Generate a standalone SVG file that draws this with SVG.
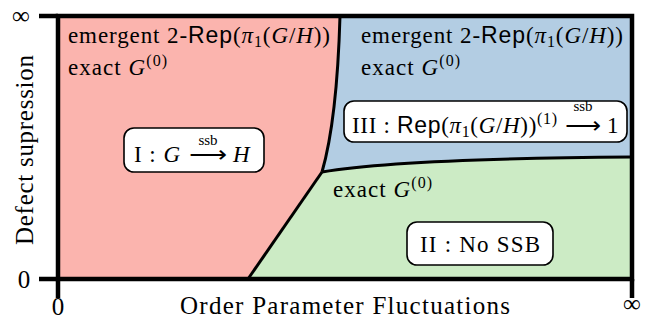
<svg xmlns="http://www.w3.org/2000/svg" width="654" height="320" viewBox="0 0 654 320">
<style>
.t{font-family:"Liberation Serif","Times New Roman",serif;font-size:23px;fill:#000}
.sf{font-family:"Liberation Sans",Arial,sans-serif}
.it{font-style:italic}
.sm{font-size:16px}
.ssb{font-family:"Liberation Serif","Times New Roman",serif;font-size:15px;text-anchor:middle}
.arr{font-family:"DejaVu Sans",sans-serif;font-size:23px}
.ax{font-family:"Liberation Serif","Times New Roman",serif;font-size:25px;fill:#000}
.bnd{fill:none;stroke:#000;stroke-width:3;stroke-linejoin:round}
.box{fill:#fff;stroke:#000;stroke-width:1.6}
</style>
<rect width="654" height="320" fill="#fff"/>
<g id="regions">
<path id="phase-I" d="M58,16 H340 Q337,120 322,172 L248,279 H58 Z" fill="#fbb4ae"/>
<path id="phase-III" d="M340,16 H632 V157 C500,158 380,162 322,172 Q337,120 340,16 Z" fill="#b3cde3"/>
<path id="phase-II" d="M322,172 C380,162 500,158 632,157 V279 H248 Z" fill="#ccebc5"/>
</g>
<g id="connectors">
<path class="bnd" d="M340,16 Q337,120 322,172"/>
<path class="bnd" d="M322,172 C380,162 500,158 632,157"/>
<path class="bnd" d="M322,172 L248,279"/>
<rect x="58" y="16" width="574" height="263" fill="none" stroke="#000" stroke-width="4.5"/>
<path d="M39,16 H58 M39,279 H58 M58,279 V298 M632,279 V298" stroke="#000" stroke-width="4.5" fill="none"/>
</g>
<g id="axes-labels">
<text class="ax" x="21" y="24" text-anchor="middle">∞</text>
<text class="ax" x="24" y="288" text-anchor="middle">0</text>
<text class="ax" x="58" y="315" text-anchor="middle">0</text>
<text class="ax" x="632" y="312" text-anchor="middle">∞</text>
<text class="ax" x="180" y="314" textLength="330" lengthAdjust="spacing">Order Parameter Fluctuations</text>
<text class="ax" transform="translate(33,245) rotate(-90)" x="0" y="0" textLength="190" lengthAdjust="spacing">Defect supression</text>
</g>
<g id="node-I">
<text class="t" x="68" y="43" textLength="262" lengthAdjust="spacing">emergent 2-<tspan class="sf">Rep</tspan>(<tspan class="it">π</tspan><tspan class="sm" dy="4">1</tspan><tspan dy="-4">(</tspan><tspan class="it">G</tspan>/<tspan class="it">H</tspan>))</text>
<text class="t" x="68" y="75" textLength="99" lengthAdjust="spacing">exact <tspan class="it">G</tspan><tspan class="sm" dy="-9">(0)</tspan></text>
<rect class="box" x="124" y="128" width="140" height="44" rx="10"/>
<text class="t" x="134" y="162" textLength="46" lengthAdjust="spacing">I : <tspan class="it">G</tspan></text>
<text class="arr" x="189" y="162" textLength="38" lengthAdjust="spacingAndGlyphs">⟶</text>
<text class="ssb" x="208" y="145">ssb</text>
<text class="t it" x="233" y="162">H</text>
</g>
<g id="node-III">
<text class="t" x="361" y="43" textLength="262" lengthAdjust="spacing">emergent 2-<tspan class="sf">Rep</tspan>(<tspan class="it">π</tspan><tspan class="sm" dy="4">1</tspan><tspan dy="-4">(</tspan><tspan class="it">G</tspan>/<tspan class="it">H</tspan>))</text>
<text class="t" x="361" y="75" textLength="99" lengthAdjust="spacing">exact <tspan class="it">G</tspan><tspan class="sm" dy="-9">(0)</tspan></text>
<rect class="box" x="344" y="101" width="283" height="41" rx="10"/>
<text class="t" x="352" y="133" textLength="205" lengthAdjust="spacing">III : <tspan class="sf">Rep</tspan>(<tspan class="it">π</tspan><tspan class="sm" dy="4">1</tspan><tspan dy="-4">(</tspan><tspan class="it">G</tspan>/<tspan class="it">H</tspan>))<tspan class="sm" dy="-9">(1)</tspan></text>
<text class="arr" x="565" y="133" textLength="36" lengthAdjust="spacingAndGlyphs">⟶</text>
<text class="ssb" x="583" y="111">ssb</text>
<text class="t" x="607" y="133">1</text>
</g>
<g id="node-II">
<text class="t" x="333" y="197" textLength="99" lengthAdjust="spacing">exact <tspan class="it">G</tspan><tspan class="sm" dy="-9">(0)</tspan></text>
<rect class="box" x="407" y="222" width="146" height="43" rx="10"/>
<text class="t" x="420" y="252" textLength="120" lengthAdjust="spacing">II : No SSB</text>
</g>
</svg>
